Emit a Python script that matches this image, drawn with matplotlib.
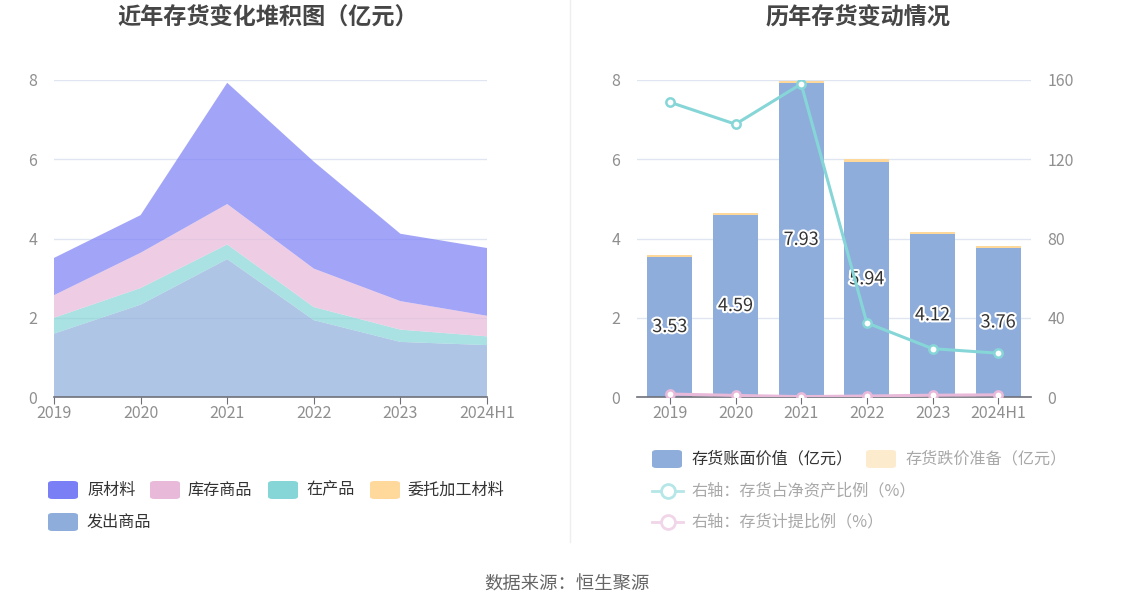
import matplotlib
matplotlib.use("Agg")
import matplotlib.pyplot as plt
import matplotlib.patheffects as pe
from matplotlib.patches import FancyBboxPatch
from matplotlib.lines import Line2D
import numpy as np

plt.rcParams['font.family'] = ['Noto Sans CJK SC', 'DejaVu Sans']

years = ['2019', '2020', '2021', '2022', '2023', '2024H1']
# left stacked area (亿元)
raw_material = [0.94, 0.95, 3.06, 2.70, 1.70, 1.71]   # 原材料
stock_goods = [0.57, 0.89, 1.02, 0.97, 0.72, 0.52]    # 库存商品
wip = [0.40, 0.42, 0.37, 0.33, 0.31, 0.22]            # 在产品
consigned = [0.0, 0.0, 0.0, 0.0, 0.0, 0.0]            # 委托加工材料
shipped = [1.60, 2.33, 3.48, 1.94, 1.39, 1.31]        # 发出商品

# right chart
book_value = [3.53, 4.59, 7.93, 5.94, 4.12, 3.76]     # 存货账面价值
impairment = [0.05, 0.05, 0.04, 0.06, 0.05, 0.04]     # 存货跌价准备
net_asset_ratio = [148.8, 137.7, 158.0, 37.4, 24.4, 22.1]  # 存货占净资产比例 %
provision_ratio = [1.5, 0.8, 0.2, 0.5, 0.9, 1.1]          # 存货计提比例 %

W, H = 1134, 612
fig = plt.figure(figsize=(W / 100, H / 100), dpi=100)

def fx(x):
    return x / W

def fy(y):
    return 1 - y / H

C_RAW = '#7b7ff5'
C_STOCK = '#e8b9d9'
C_WIP = '#86d6d8'
C_CONS = '#ffd99b'
C_SHIP = '#8eaddb'
GRID = '#e0e6f1'
TICK = '#8f8f8f'

# ---------- left chart ----------
axL = fig.add_axes([fx(54), fy(397), fx(487 - 54), (397 - 80) / H])
x = np.arange(len(years))
layers = [shipped, consigned, wip, stock_goods, raw_material]
cols = [C_SHIP, C_CONS, C_WIP, C_STOCK, C_RAW]
axL.stackplot(x, *layers, colors=cols, alpha=0.7, linewidth=0)
axL.set_xlim(0, len(years) - 1)
axL.set_ylim(0, 8)
axL.set_yticks([0, 2, 4, 6, 8])
axL.set_xticks(x)
axL.set_xticklabels(years)
for s in ['top', 'right', 'left']:
    axL.spines[s].set_visible(False)
axL.spines['bottom'].set_color('#6e7079')
axL.spines['bottom'].set_linewidth(1.2)
axL.tick_params(axis='y', length=0, pad=12, labelsize=11.5, labelcolor=TICK)
axL.tick_params(axis='x', length=5, color='#6e7079', labelsize=11.5, labelcolor=TICK, pad=1)
axL.grid(axis='y', color=GRID, linewidth=1)
axL.set_axisbelow(True)

# ---------- right chart ----------
axR = fig.add_axes([fx(637), fy(397), fx(1031 - 637), (397 - 80) / H])
axR.bar(x, book_value, width=0.69, color=C_SHIP, zorder=2)
axR.bar(x, impairment, bottom=book_value, width=0.69, color='#fdd89a', zorder=2)
axR.set_xlim(-0.5, len(years) - 0.5)
axR.set_ylim(0, 8)
axR.set_yticks([0, 2, 4, 6, 8])
axR.set_xticks(x)
axR.set_xticklabels(years)
for s in ['top', 'right', 'left']:
    axR.spines[s].set_visible(False)
axR.spines['bottom'].set_color('#6e7079')
axR.spines['bottom'].set_linewidth(1.2)
axR.tick_params(axis='y', length=0, pad=12, labelsize=11.5, labelcolor=TICK)
axR.tick_params(axis='x', length=5, color='#6e7079', labelsize=11.5, labelcolor=TICK, pad=1)
axR.grid(axis='y', color=GRID, linewidth=1)
axR.set_axisbelow(True)
for xi, v in zip(x, book_value):
    axR.text(xi, v / 2, f'{v:.2f}', ha='center', va='center', fontsize=13,
             color='#333333', zorder=5,
             path_effects=[pe.withStroke(linewidth=3, foreground='white')])

axR2 = axR.twinx()
axR2.set_ylim(0, 160)
axR2.set_yticks([0, 40, 80, 120, 160])
for s in ['top', 'right', 'left', 'bottom']:
    axR2.spines[s].set_visible(False)
axR2.tick_params(axis='y', length=0, pad=12, labelsize=11.5, labelcolor=TICK)
axR2.plot(x, net_asset_ratio, color='#86d6d8', linewidth=2.2, marker='o', markersize=6,
          markerfacecolor='white', markeredgewidth=1.8, zorder=4)
axR2.plot(x, provision_ratio, color='#e8b9d9', linewidth=2.2, marker='o', markersize=6,
          markerfacecolor='white', markeredgewidth=1.8, zorder=4)

# ---------- titles ----------
fig.text(fx(268), fy(18), '近年存货变化堆积图（亿元）', ha='center', va='center',
         fontsize=16.7, fontweight='bold', color='#464646')
fig.text(fx(858), fy(18), '历年存货变动情况', ha='center', va='center',
         fontsize=16.7, fontweight='bold', color='#464646')

# divider
fig.add_artist(Line2D([fx(570), fx(570)], [fy(0), fy(542)], color='#eeeeee', linewidth=1))

# ---------- legends ----------
def swatch(x0, yc, color, w=30, h=18):
    p = FancyBboxPatch((fx(x0), fy(yc + h / 2)), fx(w), h / H,
                       boxstyle='round,pad=0,rounding_size=0.004',
                       transform=fig.transFigure, facecolor=color, edgecolor='none')
    fig.add_artist(p)

def label(x0, yc, s, color='#333333'):
    fig.text(fx(x0), fy(yc), s, ha='left', va='center', fontsize=11.6, color=color)

def line_icon(x0, yc, color, w=31):
    fig.add_artist(Line2D([fx(x0), fx(x0 + w)], [fy(yc), fy(yc)], color=color, linewidth=2,
                          transform=fig.transFigure))
    fig.add_artist(Line2D([fx(x0 + w / 2)], [fy(yc)], marker='o', markersize=10,
                          markerfacecolor='white', markeredgecolor=color, markeredgewidth=2,
                          linestyle='none', transform=fig.transFigure))

swatch(48, 490, C_RAW); label(87, 490, '原材料')
swatch(150, 490, C_STOCK); label(188, 490, '库存商品')
swatch(268, 490, C_WIP); label(306, 490, '在产品')
swatch(370, 490, C_CONS); label(407, 490, '委托加工材料')
swatch(48, 522, C_SHIP); label(87, 522, '发出商品')

swatch(652, 459, C_SHIP); label(692, 459, '存货账面价值（亿元）')
swatch(866, 459, '#fdebcd'); label(906, 459, '存货跌价准备（亿元）', color='#a8a8a8')
line_icon(652, 491, '#b6e6e8'); label(692, 491, '右轴：存货占净资产比例（%）', color='#a8a8a8')
line_icon(652, 522, '#f1d5e8'); label(692, 522, '右轴：存货计提比例（%）', color='#a8a8a8')

fig.text(fx(567), fy(585), '数据来源：恒生聚源', ha='center', va='center',
         fontsize=13.2, color='#666666')

fig.savefig('out.png', dpi=100, facecolor='white')
